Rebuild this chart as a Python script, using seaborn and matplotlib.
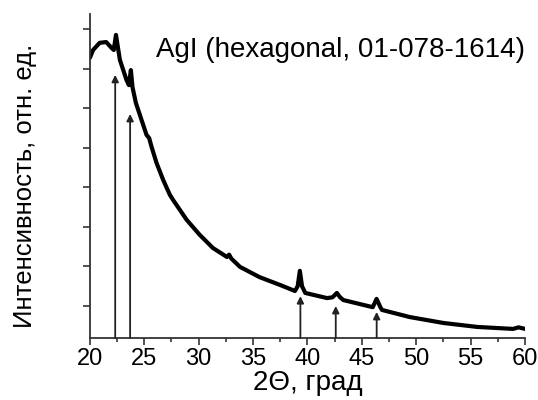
import pandas as pd
import seaborn as sns
import matplotlib.pyplot as plt

# 2Theta (grad) and intensity (arb. units)
two_theta = [20.0, 20.3, 20.9, 21.5, 22.0, 22.2, 22.4, 22.76, 23.07, 23.37, 23.59,
             23.77, 23.92, 24.23, 24.75, 25.21, 25.45, 25.67, 26.13, 26.74, 27.36,
             27.66, 28.9, 30.1, 31.3, 32.6, 32.8, 33.0, 33.8, 35.6, 37.5, 38.85,
             39.1, 39.3, 39.5, 39.8, 41.8, 42.3, 42.7, 43.0, 43.3, 46.0, 46.35,
             46.7, 46.85, 49.4, 52.5, 55.6, 58.9, 59.4, 60.0]
intensity = [7.28, 7.48, 7.66, 7.68, 7.53, 7.48, 7.86, 7.23, 6.97, 6.72, 6.59,
             6.97, 6.54, 6.14, 5.71, 5.33, 5.25, 5.03, 4.62, 4.19, 3.81,
             3.68, 3.18, 2.80, 2.47, 2.24, 2.30, 2.20, 1.99, 1.73, 1.53, 1.38,
             1.50, 1.89, 1.50, 1.33, 1.20, 1.22, 1.33, 1.22, 1.15, 0.97, 1.18,
             0.97, 0.90, 0.72, 0.57, 0.47, 0.42, 0.46, 0.42]

# reference lines AgI hexagonal 01-078-1614 (position, arrow top)
ref_pos = [22.33, 23.7, 39.35, 42.6, 46.36]
ref_top = [6.85, 5.86, 1.25, 1.0, 0.85]

x_ticks = [20, 25, 30, 35, 40, 45, 50, 55, 60]
y_bottom = 0.19

df = pd.DataFrame({'x': two_theta, 'y': intensity})

sns.set_style('ticks')
plt.rcParams['font.family'] = ['Liberation Sans', 'DejaVu Sans']
plt.rcParams['text.color'] = 'black'
plt.rcParams['axes.labelcolor'] = 'black'
plt.rcParams['xtick.color'] = 'black'
plt.rcParams['ytick.color'] = 'black'

fig, ax = plt.subplots(figsize=(5.38, 4), dpi=100)
fig.subplots_adjust(left=0.167, right=0.976, bottom=0.155, top=0.965)

sns.lineplot(data=df, x='x', y='y', color='black', linewidth=3.0, ax=ax)

for p, t in zip(ref_pos, ref_top):
    ax.annotate('', xy=(p, t), xytext=(p, y_bottom),
                arrowprops=dict(arrowstyle='-|>', color='#222222', lw=1.3,
                                mutation_scale=10, shrinkA=0, shrinkB=0))

ax.set_xlim(20, 60)
ax.set_ylim(y_bottom, 8.39)
ax.set_xticks(x_ticks)
ax.set_xticks([22.5 + 5 * i for i in range(8)], minor=True)
ax.set_yticks(range(1, 9))
ax.set_yticklabels([])
ax.tick_params(axis='both', which='major', length=5, width=1.2, color='#333333',
               labelsize=17, pad=2, labelcolor='black')
ax.tick_params(axis='x', which='minor', length=3, width=1.2, color='#333333')
for s in ['left', 'bottom']:
    ax.spines[s].set_linewidth(1.3)
    ax.spines[s].set_color('#333333')
sns.despine(ax=ax)

ax.set_xlabel('2\u0398, град', fontsize=20, labelpad=0)
ax.set_ylabel('Интенсивность, отн. ед.', fontsize=18.5)
ax.yaxis.set_label_coords(-0.121, 0.468)
ax.text(1.0, 0.889, 'AgI (hexagonal, 01-078-1614)', transform=ax.transAxes,
        ha='right', va='center', fontsize=20)

fig.savefig('out.png', dpi=100)
